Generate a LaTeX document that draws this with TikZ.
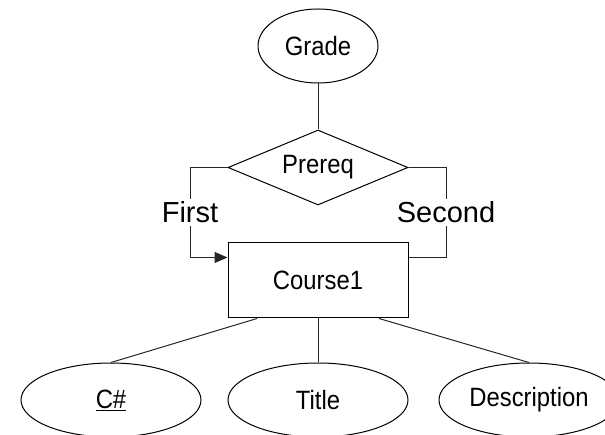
\documentclass[tikz,border=0pt]{standalone}
\usepackage{fontspec}
\setmainfont{Liberation Sans}
\newfontfamily\nodefont{Liberation Sans}[FakeStretch=0.9]
\usetikzlibrary{shapes.geometric,arrows.meta,calc}
\begin{document}
\begin{tikzpicture}[x=1pt,y=-1pt,
  every node/.style={font=\nodefont\fontsize{26.5}{30}\selectfont, inner sep=0pt},
  attr/.style={draw, line width=1pt, ellipse, minimum width=180pt, minimum height=74pt},
  ent/.style={draw, line width=1pt, rectangle, minimum width=180pt, minimum height=75pt},
  rel/.style={draw, line width=1pt, diamond, aspect=2.4, minimum width=180pt, minimum height=75pt},
  conn/.style={line width=1pt, draw=black!85},
  lab/.style={fill=white, font=\fontsize{29}{33}\selectfont, inner sep=3pt}
]
\useasboundingbox (0,0) rectangle (605,435);
\begin{scope}
\clip (0,0) rectangle (605,435);
\node[attr, minimum width=120pt] (grade) at (318,46) {Grade};
\node[rel] (prereq) at (318,167.5) {Prereq};
\node[ent] (course) at (318,280.5) {Course1};
\node[attr] (cnum) at (111,400) {\underline{C\#}};
\node[attr] (title) at (318,400) {Title};
\node[attr] (desc) at (529,400) {Description};

\draw[conn] (grade.south) -- (prereq.north);

\coordinate (lc) at (190,167.5);
\coordinate (rc) at (446,167.5);
\coordinate (cin) at ($(course.north west)+(0,15)$);
\coordinate (cout) at ($(course.north east)+(0,15)$);
\draw[conn, -{Triangle[length=13pt,width=11pt]}] (prereq.west) -- (lc) |- node[lab, pos=0.25] {First} (cin);
\draw[conn] (prereq.east) -- (rc) |- node[lab, pos=0.25] {Second} (cout);

\coordinate (b1) at ($(course.south west)!0.163!(course.south east)$);
\coordinate (b3) at ($(course.south west)!0.837!(course.south east)$);
\draw[conn] (b1) -- (cnum.north);
\draw[conn] (course.south) -- (title.north);
\draw[conn] (b3) -- (desc.north);
\end{scope}
\end{tikzpicture}
\end{document}
